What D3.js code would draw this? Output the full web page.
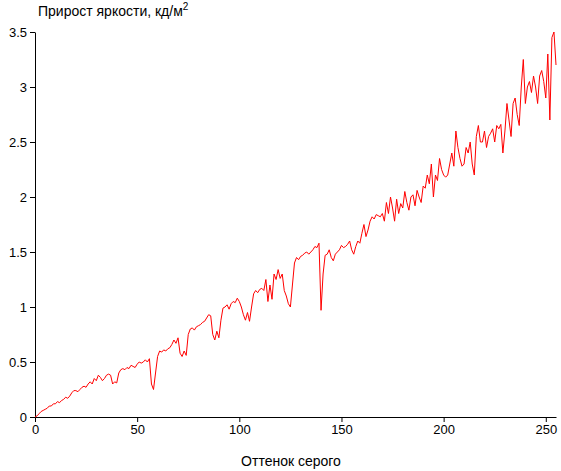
<!DOCTYPE html>
<html><head><meta charset="utf-8">
<script src="https://cdn.jsdelivr.net/npm/d3@7"></script>
<style>body{margin:0;background:#fff}text{font-family:Arial,"Liberation Sans",sans-serif}</style>
</head><body><svg id="c" width="561" height="471"></svg>
<script>
// brightness increment per grey level
var gains = [
 0,0.01,0.03,0.05,0.06,0.07,0.08,0.1,0.1,0.12,
 0.12,0.14,0.13,0.15,0.16,0.18,0.17,0.19,0.22,0.24,
 0.24,0.23,0.25,0.27,0.28,0.27,0.3,0.32,0.3,0.35,
 0.33,0.38,0.36,0.33,0.35,0.38,0.39,0.38,0.3,0.32,
 0.31,0.4,0.43,0.44,0.43,0.45,0.44,0.47,0.46,0.45,
 0.48,0.5,0.49,0.5,0.52,0.5,0.53,0.3,0.25,0.4,
 0.55,0.6,0.59,0.61,0.6,0.62,0.63,0.66,0.7,0.67,
 0.72,0.58,0.55,0.6,0.56,0.75,0.8,0.81,0.79,0.82,
 0.83,0.84,0.86,0.87,0.9,0.93,0.92,0.75,0.7,0.78,
 0.72,0.88,0.99,1.0,1.02,0.98,1.03,1.05,1.04,1.08,
 1.05,1.0,0.93,0.88,0.95,0.87,1.0,1.12,1.15,1.13,
 1.16,1.17,1.15,1.25,1.05,1.2,1.07,1.3,1.25,1.34,
 1.26,1.3,1.15,1.1,1.03,1.0,1.2,1.4,1.45,1.43,
 1.46,1.47,1.49,1.5,1.48,1.5,1.52,1.55,1.54,1.58,
 0.97,1.3,1.47,1.48,1.52,1.45,1.42,1.48,1.5,1.52,
 1.56,1.54,1.55,1.57,1.6,1.52,1.48,1.55,1.6,1.58,
 1.67,1.75,1.64,1.7,1.78,1.82,1.8,1.84,1.83,1.82,
 1.85,1.78,1.95,1.85,2.0,1.9,1.78,1.98,1.85,1.94,
 1.9,2.05,1.95,1.88,2.0,2.02,1.92,2.06,2.0,1.95,
 2.1,2.08,2.2,2.12,2.3,2.0,2.2,2.15,2.35,2.25,
 2.2,2.18,2.2,2.3,2.4,2.28,2.6,2.45,2.35,2.28,
 2.3,2.45,2.4,2.5,2.3,2.2,2.55,2.65,2.5,2.5,
 2.6,2.45,2.55,2.58,2.62,2.5,2.65,2.62,2.66,2.4,
 2.6,2.85,2.7,2.55,2.85,2.9,2.75,2.65,3.0,3.25,
 2.85,3.0,3.05,2.95,3.1,3.0,2.85,3.1,3.15,3.05,
 2.9,3.3,2.7,3.45,3.5,3.2
];
var xTicks = [0,50,100,150,200,250];
var yTicks = [0,0.5,1,1.5,2,2.5,3,3.5];

var svg = d3.select('#c');
var x = d3.scaleLinear().domain([0,255]).range([35,556]);
var y = d3.scaleLinear().domain([0,3.5]).range([417,32]);

svg.append('g').attr('transform','translate(0,417)')
  .call(d3.axisBottom(x).tickValues(xTicks).tickSize(5).tickSizeOuter(0))
  .call(function(g){g.selectAll('text').attr('font-size',13).attr('fill','#000');g.selectAll('line,path').attr('stroke','#000');});
svg.append('g').attr('transform','translate(35,0)')
  .call(d3.axisLeft(y).tickValues(yTicks).tickSize(5).tickSizeOuter(0).tickFormat(d3.format('')))
  .call(function(g){g.selectAll('text').attr('font-size',13).attr('fill','#000');g.selectAll('line,path').attr('stroke','#000');});

svg.append('path').datum(gains)
  .attr('fill','none').attr('stroke','#ff0000').attr('stroke-width',1)
  .attr('d', d3.line().x(function(d,i){return x(i);}).y(function(d){return y(d);}));

var t = svg.append('text').attr('x',38).attr('y',16).attr('font-size',14).text('Прирост яркости, кд/м');
t.append('tspan').attr('font-size',10).attr('dy',-6).text('2');
svg.append('text').attr('x',291).attr('y',466).attr('text-anchor','middle').attr('font-size',14).text('Оттенок серого');
</script></body></html>
